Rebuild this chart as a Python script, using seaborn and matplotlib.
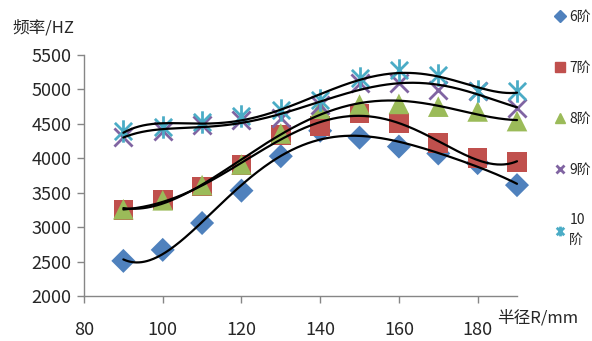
import numpy as np
import pandas as pd
import matplotlib
matplotlib.use("Agg")
import matplotlib.pyplot as plt
from matplotlib.path import Path
from matplotlib.lines import Line2D
import seaborn as sns

# radius (mm) and modal frequencies (Hz)
radius = [90, 100, 110, 120, 130, 140, 150, 160, 170, 180, 190]
f6 = [2510, 2670, 3060, 3530, 4030, 4400, 4300, 4170, 4070, 3930, 3610]
f7 = [3250, 3390, 3590, 3900, 4340, 4470, 4650, 4510, 4220, 4000, 3950]
f8 = [3260, 3390, 3610, 3910, 4360, 4720, 4780, 4790, 4750, 4680, 4540]
f9 = [4310, 4390, 4480, 4560, 4580, 4780, 5090, 5090, 4990, 4980, 4730]
f10 = [4390, 4450, 4530, 4610, 4700, 4840, 5160, 5280, 5210, 4980, 4970]
labels = ["6阶", "7阶", "8阶", "9阶", "10\n阶"]
x_ticks = [80, 100, 120, 140, 160, 180]
y_ticks = [2000, 2500, 3000, 3500, 4000, 4500, 5000, 5500]

sns.set_style("white")
plt.rcParams["font.family"] = ["Noto Sans CJK SC", "DejaVu Sans"]

# excel-like "star": X with a vertical bar
star = Path([(-1, -1), (1, 1), (-1, 1), (1, -1), (0, -1.3), (0, 1.3)],
            [Path.MOVETO, Path.LINETO, Path.MOVETO, Path.LINETO, Path.MOVETO, Path.LINETO])

series = [f6, f7, f8, f9, f10]
colors = ["#4F81BD", "#C0504D", "#9BBB59", "#8064A2", "#4BACC6"]
markers = ["D", "s", "^", "X", star]
sizes = [150, 200, 220, 170, 260]

fig = plt.figure(figsize=(5.92, 3.41), dpi=100)
ax = fig.add_axes([84 / 592, 1 - 296 / 341, (517 - 84) / 592, (296 - 55) / 341])

df = pd.DataFrame({"r": radius * 5,
                   "f": sum(series, []),
                   "order": sum([[lab] * len(radius) for lab in labels], [])})

for lab, c, m, s in zip(labels, colors, markers, sizes):
    sub = df[df["order"] == lab]
    if m == "X":
        ax.scatter(sub["r"], sub["f"], marker="x", s=s, color=c, linewidths=2, zorder=2, clip_on=False)
    elif m is star:
        ax.scatter(sub["r"], sub["f"], marker=m, s=s, color=c, linewidths=2, zorder=2, clip_on=False)
    else:
        sns.scatterplot(data=sub, x="r", y="f", marker=m, s=s, color=c,
                        edgecolor="none", ax=ax, zorder=2, legend=False, clip_on=False)

# polynomial trendlines
xs = np.linspace(90, 190, 300)
for vals in series:
    p = np.polyfit(radius, vals, 5)
    ax.plot(xs, np.polyval(p, xs), color="black", lw=1.6, zorder=3, clip_on=False)

ax.set_xlim(80, 190)
ax.set_ylim(2000, 5500)
ax.set_xticks(x_ticks)
ax.set_yticks(y_ticks)
ax.set_xlabel("")
ax.set_ylabel("")
ax.tick_params(axis="both", labelsize=13, color="#868686", length=5, width=1, direction="out")
ax.tick_params(axis="x", pad=13, bottom=True)
ax.tick_params(axis="y", pad=4, left=True)
for side in ["top", "right"]:
    ax.spines[side].set_visible(False)
for side in ["left", "bottom"]:
    ax.spines[side].set_color("#868686")
    ax.spines[side].set_linewidth(1)

fig.text(12 / 592, 1 - 28 / 341, "频率/HZ", fontsize=12, va="center", ha="left")
fig.text(497 / 592, 1 - 318 / 341, "半径R/mm", fontsize=12, va="center", ha="left")

handles = [
    Line2D([], [], ls="none", marker="D", color=colors[0], markersize=6),
    Line2D([], [], ls="none", marker="s", color=colors[1], markersize=7),
    Line2D([], [], ls="none", marker="^", color=colors[2], markersize=7),
    Line2D([], [], ls="none", marker="x", color=colors[3], markersize=6, mew=2),
    Line2D([], [], ls="none", marker=star, color=colors[4], markersize=7, mew=2),
]
leg = fig.legend(handles, labels, loc="upper left", bbox_to_anchor=(554 / 592, 1 - 10 / 341),
                 frameon=False, fontsize=10, handlelength=0.8, handletextpad=0.3,
                 labelspacing=2.65, borderaxespad=0, borderpad=0)
for t in leg.get_texts():
    t.set_linespacing(1.5)

fig.savefig("out.png", dpi=100)
